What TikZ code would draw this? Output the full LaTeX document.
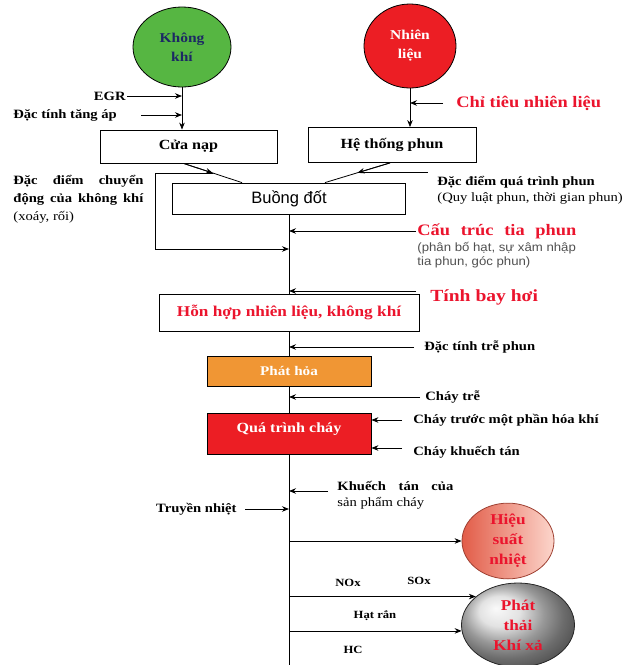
\documentclass[tikz,border=0pt]{standalone}
\usepackage{fontspec}
\setmainfont{Liberation Serif}[FakeStretch=1.15]
\setsansfont{Liberation Sans}
\newfontfamily\notefont{Liberation Sans}[FakeStretch=1.1]
\usetikzlibrary{arrows.meta,shapes.geometric}

\definecolor{airgreen}{RGB}{86,182,66}
\definecolor{fuelred}{RGB}{236,30,36}
\definecolor{fireorange}{RGB}{240,150,52}
\definecolor{navytext}{RGB}{28,40,100}
\definecolor{hotred}{RGB}{235,20,45}
\definecolor{notegray}{RGB}{80,80,80}
\definecolor{effdark}{RGB}{226,92,72}
\definecolor{efflight}{RGB}{252,214,204}
\newcommand{\sz}[2]{\fontsize{#1}{#2}\selectfont}

\begin{document}
\begin{tikzpicture}[x=1pt,y=-1pt,>={Stealth[length=7pt,width=5.5pt]},line width=0.8pt,
    box/.style={rectangle,draw,inner sep=0pt,font=\bfseries\sz{14}{17}},
    blob/.style={ellipse,draw,inner sep=0pt,align=center},
    lbl/.style={inner sep=1pt,font=\bfseries\sz{12.7}{16}},
    gaslbl/.style={inner sep=1pt,font=\bfseries\sz{11}{13}}]
  \useasboundingbox (0,0) rectangle (625,665);
  \coordinate (bottom) at (289,665);

  % air and fuel
  \node[blob,fill=airgreen,minimum width=98pt,minimum height=80pt,text=navytext,
        font=\bfseries\sz{13.5}{19}] (air) at (182,47) {Không\\khí};
  \node[blob,fill=fuelred,minimum width=92pt,minimum height=84pt,text=white,
        font=\bfseries\sz{13.5}{19}] (fuel) at (410,46) {Nhiên\\liệu};

  % main boxes
  \node[box,minimum width=177pt,minimum height=33pt] (intake) at (188.5,146.5) {Cửa nạp};
  \node[box,minimum width=168pt,minimum height=35pt] (inject) at (392,145) {Hệ thống phun};
  \node[box,minimum width=233pt,minimum height=31pt,font=\sffamily\sz{16.5}{19}] (chamber) at (289,198.5) {Buồng đốt};
  \node[box,minimum width=260pt,minimum height=37pt,text=hotred,font=\bfseries\sz{15}{18}] (mixture) at (289,312.5) {Hỗn hợp nhiên liệu, không khí};
  \node[box,fill=fireorange,text=white,minimum width=164pt,minimum height=30pt,
        font=\bfseries\sz{13.2}{16}] (ignite) at (289,371) {Phát hỏa};
  \node[box,fill=fuelred,text=white,minimum width=164pt,minimum height=41pt,
        text height=13pt,text depth=16pt,inner ysep=6pt] (burn) at (289,433.5) {Quá trình cháy};

  % results
  \node[blob,minimum width=92pt,minimum height=62pt,left color=effdark,right color=efflight,
        draw=effdark!70!black,text=hotred,font=\bfseries\sz{15}{20}] (efficiency) at (508,541) {Hiệu\\suất\\nhiệt};
  \node[blob,minimum width=113pt,minimum height=84pt,ball color=gray!30,draw=gray!30!black,
        text=hotred,font=\bfseries\sz{15}{20}] (exhaust) at (518,625) {Phát\\thải\\Khí xả};

  % labels
  \node[lbl,anchor=east] (egr) at (127,96) {EGR};
  \node[lbl,anchor=west] (boost) at (12,115) {Đặc tính tăng áp};
  \node[lbl,anchor=west,text=hotred,font=\bfseries\sz{16}{19}] (fuelrate) at (455,103) {Chỉ tiêu nhiên liệu};
  \node[lbl,anchor=north west,text width=130pt,align=justify,inner sep=0pt,font=\bfseries\sz{12.7}{18}] (airmotion) at (13,175)
       {Đặc\hfill điểm\hfill chuyển\\động\hfill của\hfill không\hfill khí\\{\mdseries (xoáy, rối)}};
  \node[lbl,anchor=north west,align=left,inner sep=0pt] (spraylaw) at (437,176)
       {Đặc điểm quá trình phun\\{\mdseries (Quy luật phun, thời gian phun)}};
  \node[lbl,anchor=west,text=hotred,font=\bfseries\sz{16}{19}] (spray) at (416,231) {\makebox[159pt][s]{Cấu trúc tia phun}};
  \node[anchor=north west,inner sep=1pt,align=left,text=notegray,font=\notefont\sz{12}{13.5}] (spraynote) at (416,241)
       {(phân bố hạt, sự xâm nhập\\tia phun, góc phun)};
  \node[lbl,anchor=west,text=hotred,font=\bfseries\sz{17}{20}] (vapor) at (429,297) {Tính bay hơi};
  \node[lbl,anchor=west] (delay) at (423,347) {Đặc tính trễ phun};
  \node[lbl,anchor=west] (lateburn) at (424,397) {Cháy trễ};
  \node[lbl,anchor=west] (premix) at (412,420) {Cháy trước một phần hóa khí};
  \node[lbl,anchor=west] (diffburn) at (412,452) {Cháy khuếch tán};
  \node[lbl,anchor=north west,text width=116pt,align=justify,inner sep=0pt] (products) at (337,481)
       {Khuếch\hfill tán\hfill của\\{\mdseries sản phẩm cháy}};
  \node[lbl,anchor=east] (heat) at (238,509) {Truyền nhiệt};
  \node[gaslbl] (nox) at (348,583) {NOx};
  \node[gaslbl] (sox) at (419,581) {SOx};
  \node[gaslbl] (soot) at (375,616) {Hạt rắn};
  \node[gaslbl] (hc) at (353,650) {HC};

  % air and fuel feeds
  \draw[->] (air) -- (air.south |- intake.north);
  \draw[->] (egr.east) -- (egr.east -| air.south);
  \draw[->] ([xshift=23pt]boost.east) -- (boost.east -| air.south);
  \draw[->] (fuel) -- (fuel.south |- inject.north);
  \draw[->] ([xshift=-12pt]fuelrate.west) -- (fuelrate.west -| fuel.south);

  % into the chamber
  \draw ([xshift=-5pt]intake.south) -- coordinate[pos=.5] (intakemid) ([xshift=-47pt]chamber.north);
  \draw[->] ([xshift=-5pt]intake.south) -- (intakemid);
  \draw ([xshift=-2pt]inject.south) -- coordinate[pos=.5] (injectmid) ([xshift=36pt]chamber.north);
  \draw[->] ([xshift=-2pt]inject.south) -- (injectmid);
  \coordinate (lawend) at ([xshift=-9pt]spraylaw.north west);
  \draw (injectmid) -- (injectmid -| lawend);
  \coordinate (airturn) at (155,249);
  \draw[->] (intakemid) -| (airturn) -- (airturn -| chamber.south);

  % main line
  \draw (chamber.south) -- (mixture.north);
  \draw (mixture.south) -- (ignite.north);
  \draw (ignite.south) -- (burn.north);
  \draw (burn.south) -- (bottom);

  % side inputs
  \draw[->] (spray.west) -- (spray.west -| chamber.south);
  \coordinate (vaporend) at ([xshift=-13pt,yshift=6pt]vapor.west);
  \draw[->] (vaporend) -- (vaporend -| chamber.south);
  \draw[->] ([xshift=-9pt]delay.west) -- (delay.west -| chamber.south);
  \draw[->] ([xshift=-4pt]lateburn.west) -- (lateburn.west -| chamber.south);
  \draw[->] ([xshift=-10pt]premix.west) -- (premix.west -| burn.east);
  \coordinate (diffend) at ([xshift=-10pt,yshift=4pt]diffburn.west);
  \draw[->] (diffend) -- (diffend -| burn.east);
  \coordinate (prodend) at ([xshift=-9pt,yshift=-10pt]products.north west);
  \draw[->] (prodend) -- (prodend -| chamber.south);
  \draw[->] ([xshift=7pt]heat.east) -- (heat.east -| chamber.south);

  % outputs
  \draw[->] (efficiency.west -| chamber.south) -- (efficiency.west);
  \draw[->] (exhaust.146 -| chamber.south) -- (exhaust.146);
  \draw[->] (exhaust.186 -| chamber.south) -- (exhaust.186);
\end{tikzpicture}
\end{document}
